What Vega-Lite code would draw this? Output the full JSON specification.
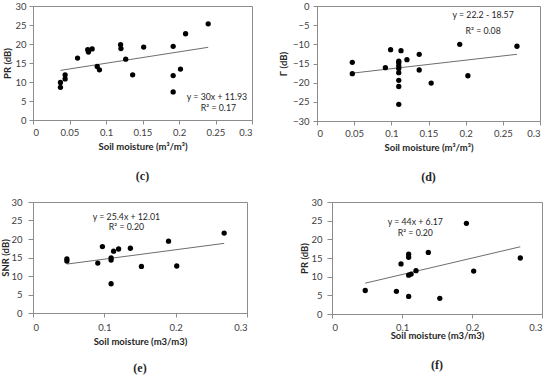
{
  "$schema": "https://vega.github.io/schema/vega-lite/v6.json",
  "background": "white",
  "padding": {"left": 0, "top": 0, "right": 0, "bottom": 0},
  "datasets": {
    "c": [
      {"sm": 0.0376, "v": 8.6}, {"sm": 0.0376, "v": 9.9}, {"sm": 0.044, "v": 11.9}, {"sm": 0.044, "v": 10.8},
      {"sm": 0.061, "v": 16.3}, {"sm": 0.075, "v": 18.5}, {"sm": 0.076, "v": 17.9}, {"sm": 0.081, "v": 18.7},
      {"sm": 0.088, "v": 14.1}, {"sm": 0.091, "v": 13.2}, {"sm": 0.12, "v": 19.8}, {"sm": 0.1205, "v": 18.8},
      {"sm": 0.127, "v": 16.0}, {"sm": 0.1365, "v": 11.9}, {"sm": 0.1516, "v": 19.2}, {"sm": 0.192, "v": 19.4},
      {"sm": 0.192, "v": 11.7}, {"sm": 0.192, "v": 7.4}, {"sm": 0.202, "v": 13.4}, {"sm": 0.209, "v": 22.7},
      {"sm": 0.24, "v": 25.3}
    ],
    "cfit": [{"sm": 0.0376, "v": 13.06}, {"sm": 0.24, "v": 19.13}],
    "d": [
      {"sm": 0.0475, "v": -14.7}, {"sm": 0.0475, "v": -17.65}, {"sm": 0.092, "v": -16.1}, {"sm": 0.099, "v": -11.4},
      {"sm": 0.11, "v": -14.4}, {"sm": 0.11, "v": -14.8}, {"sm": 0.11, "v": -15.6}, {"sm": 0.11, "v": -16.3},
      {"sm": 0.11, "v": -17.4}, {"sm": 0.11, "v": -19.4}, {"sm": 0.11, "v": -21.0}, {"sm": 0.11, "v": -25.65},
      {"sm": 0.113, "v": -11.65}, {"sm": 0.121, "v": -14.0}, {"sm": 0.1375, "v": -12.6}, {"sm": 0.1375, "v": -16.7},
      {"sm": 0.1536, "v": -20.1}, {"sm": 0.192, "v": -10.0}, {"sm": 0.203, "v": -18.2}, {"sm": 0.269, "v": -10.5}
    ],
    "dfit": [{"sm": 0.0475, "v": -17.52}, {"sm": 0.269, "v": -12.6}],
    "e": [
      {"sm": 0.0475, "v": 14.6}, {"sm": 0.0475, "v": 14.05}, {"sm": 0.0908, "v": 13.5}, {"sm": 0.0973, "v": 17.95},
      {"sm": 0.1095, "v": 14.9}, {"sm": 0.1095, "v": 14.3}, {"sm": 0.1095, "v": 7.9}, {"sm": 0.113, "v": 16.7},
      {"sm": 0.12, "v": 17.3}, {"sm": 0.1365, "v": 17.5}, {"sm": 0.152, "v": 12.6}, {"sm": 0.19, "v": 19.4},
      {"sm": 0.2015, "v": 12.7}, {"sm": 0.268, "v": 21.6}
    ],
    "efit": [{"sm": 0.0475, "v": 13.22}, {"sm": 0.268, "v": 18.82}],
    "f": [
      {"sm": 0.0475, "v": 6.3}, {"sm": 0.092, "v": 6.07}, {"sm": 0.0986, "v": 13.4}, {"sm": 0.1095, "v": 16.0},
      {"sm": 0.1095, "v": 15.2}, {"sm": 0.1095, "v": 10.4}, {"sm": 0.113, "v": 10.7}, {"sm": 0.1095, "v": 4.7},
      {"sm": 0.12, "v": 11.6}, {"sm": 0.1376, "v": 16.5}, {"sm": 0.154, "v": 4.2}, {"sm": 0.192, "v": 24.3},
      {"sm": 0.2024, "v": 11.5}, {"sm": 0.269, "v": 15.0}
    ],
    "ffit": [{"sm": 0.0475, "v": 8.26}, {"sm": 0.269, "v": 18.01}]
  },
  "config": {
    "view": {"stroke": "#8c8c8c", "strokeWidth": 1},
    "axis": {
      "grid": false, "domainColor": "#8c8c8c", "tickColor": "#8c8c8c", "tickSize": 4,
      "labelFont": "Lato", "labelFontSize": 9.5, "labelColor": "#404040", "labelPadding": 3,
      "titleFont": "Lato", "titleFontSize": 9.5, "titleFontWeight": "bold", "titleColor": "#262626"
    },
    "title": {"orient": "bottom", "font": "Liberation Serif", "fontSize": 12, "fontWeight": "bold", "color": "#262626", "offset": 20},
    "text": {"font": "Lato", "fontSize": 8.75, "color": "#262626"}
  },
  "spacing": 12,
  "align": "none",
  "vconcat": [
    {
      "spacing": 24,
      "hconcat": [
        {
          "title": "(c)",
          "width": 219, "height": 114,
          "layer": [
            {"data": {"name": "cfit"}, "mark": {"type": "line", "color": "#6e6e6e", "strokeWidth": 1},
             "encoding": {
               "x": {"field": "sm", "type": "quantitative", "scale": {"domain": [0, 0.3], "nice": false},
                     "axis": {"values": [0, 0.05, 0.1, 0.15, 0.2, 0.25, 0.3], "format": "~g", "title": "Soil moisture (m³/m³)", "titlePadding": 5}},
               "y": {"field": "v", "type": "quantitative", "scale": {"domain": [0, 30], "nice": false},
                     "axis": {"values": [0, 5, 10, 15, 20, 25, 30], "title": "PR (dB)", "titlePadding": 2, "labelPadding": 3}}
             }},
            {"data": {"name": "c"}, "mark": {"type": "circle", "color": "black", "opacity": 1, "size": 28},
             "encoding": {
               "x": {"field": "sm", "type": "quantitative", "scale": {"domain": [0, 0.3], "nice": false},
                     "axis": {"values": [0, 0.05, 0.1, 0.15, 0.2, 0.25, 0.3], "format": "~g", "title": "Soil moisture (m³/m³)", "titlePadding": 5}},
               "y": {"field": "v", "type": "quantitative", "scale": {"domain": [0, 30], "nice": false},
                     "axis": {"values": [0, 5, 10, 15, 20, 25, 30], "title": "PR (dB)", "titlePadding": 2, "labelPadding": 3}}
             }},
            {"data": {"values": [{"label": "y = 30x + 11.93"}]}, "mark": {"type": "text"},
             "encoding": {"text": {"field": "label"},
               "x": {"datum": 0.252, "type": "quantitative", "scale": {"domain": [0, 0.3], "nice": false},
                     "axis": {"values": [0, 0.05, 0.1, 0.15, 0.2, 0.25, 0.3], "format": "~g", "title": "Soil moisture (m³/m³)", "titlePadding": 5}},
               "y": {"datum": 6.05, "type": "quantitative", "scale": {"domain": [0, 30], "nice": false},
                     "axis": {"values": [0, 5, 10, 15, 20, 25, 30], "title": "PR (dB)", "titlePadding": 2, "labelPadding": 3}}}},
            {"data": {"values": [{"label": "R² = 0.17"}]}, "mark": {"type": "text"},
             "encoding": {"text": {"field": "label"},
               "x": {"datum": 0.254, "type": "quantitative", "scale": {"domain": [0, 0.3], "nice": false},
                     "axis": {"values": [0, 0.05, 0.1, 0.15, 0.2, 0.25, 0.3], "format": "~g", "title": "Soil moisture (m³/m³)", "titlePadding": 5}},
               "y": {"datum": 3.2, "type": "quantitative", "scale": {"domain": [0, 30], "nice": false},
                     "axis": {"values": [0, 5, 10, 15, 20, 25, 30], "title": "PR (dB)", "titlePadding": 2, "labelPadding": 3}}}}
          ]
        },
        {
          "title": "(d)",
          "width": 223, "height": 115,
          "layer": [
            {"data": {"name": "dfit"}, "mark": {"type": "line", "color": "#6e6e6e", "strokeWidth": 1},
             "encoding": {
               "x": {"field": "sm", "type": "quantitative", "scale": {"domain": [0, 0.3], "nice": false},
                     "axis": {"values": [0, 0.05, 0.1, 0.15, 0.2, 0.25, 0.3], "format": "~g", "title": "Soil moisture (m³/m³)", "titlePadding": 5}},
               "y": {"field": "v", "type": "quantitative", "scale": {"domain": [-30, 0], "nice": false},
                     "axis": {"values": [-30, -25, -20, -15, -10, -5, 0], "title": "Γ (dB)", "titlePadding": 4, "labelPadding": 4}}
             }},
            {"data": {"name": "d"}, "mark": {"type": "circle", "color": "black", "opacity": 1, "size": 28},
             "encoding": {
               "x": {"field": "sm", "type": "quantitative", "scale": {"domain": [0, 0.3], "nice": false},
                     "axis": {"values": [0, 0.05, 0.1, 0.15, 0.2, 0.25, 0.3], "format": "~g", "title": "Soil moisture (m³/m³)", "titlePadding": 5}},
               "y": {"field": "v", "type": "quantitative", "scale": {"domain": [-30, 0], "nice": false},
                     "axis": {"values": [-30, -25, -20, -15, -10, -5, 0], "title": "Γ (dB)", "titlePadding": 4, "labelPadding": 4}}
             }},
            {"data": {"values": [{"label": "y = 22.2 - 18.57"}]}, "mark": {"type": "text"},
             "encoding": {"text": {"field": "label"},
               "x": {"datum": 0.2235, "type": "quantitative", "scale": {"domain": [0, 0.3], "nice": false},
                     "axis": {"values": [0, 0.05, 0.1, 0.15, 0.2, 0.25, 0.3], "format": "~g", "title": "Soil moisture (m³/m³)", "titlePadding": 5}},
               "y": {"datum": -2.43, "type": "quantitative", "scale": {"domain": [-30, 0], "nice": false},
                     "axis": {"values": [-30, -25, -20, -15, -10, -5, 0], "title": "Γ (dB)", "titlePadding": 4, "labelPadding": 4}}}},
            {"data": {"values": [{"label": "R² = 0.08"}]}, "mark": {"type": "text"},
             "encoding": {"text": {"field": "label"},
               "x": {"datum": 0.2235, "type": "quantitative", "scale": {"domain": [0, 0.3], "nice": false},
                     "axis": {"values": [0, 0.05, 0.1, 0.15, 0.2, 0.25, 0.3], "format": "~g", "title": "Soil moisture (m³/m³)", "titlePadding": 5}},
               "y": {"datum": -6.5, "type": "quantitative", "scale": {"domain": [-30, 0], "nice": false},
                     "axis": {"values": [-30, -25, -20, -15, -10, -5, 0], "title": "Γ (dB)", "titlePadding": 4, "labelPadding": 4}}}}
          ]
        }
      ]
    },
    {
      "spacing": 51,
      "hconcat": [
        {
          "title": {"text": "(e)", "offset": 17},
          "width": 214, "height": 111,
          "layer": [
            {"data": {"name": "efit"}, "mark": {"type": "line", "color": "#6e6e6e", "strokeWidth": 1},
             "encoding": {
               "x": {"field": "sm", "type": "quantitative", "scale": {"domain": [0, 0.3], "nice": false},
                     "axis": {"values": [0, 0.1, 0.2, 0.3], "format": "~g", "title": "Soil moisture (m3/m3)", "titlePadding": 5, "labelPadding": 5}},
               "y": {"field": "v", "type": "quantitative", "scale": {"domain": [0, 30], "nice": false},
                     "axis": {"values": [0, 5, 10, 15, 20, 25, 30], "title": "SNR (dB)", "titlePadding": 0, "tickSize": 5, "labelPadding": 6}}
             }},
            {"data": {"name": "e"}, "mark": {"type": "circle", "color": "black", "opacity": 1, "size": 28},
             "encoding": {
               "x": {"field": "sm", "type": "quantitative", "scale": {"domain": [0, 0.3], "nice": false},
                     "axis": {"values": [0, 0.1, 0.2, 0.3], "format": "~g", "title": "Soil moisture (m3/m3)", "titlePadding": 5, "labelPadding": 5}},
               "y": {"field": "v", "type": "quantitative", "scale": {"domain": [0, 30], "nice": false},
                     "axis": {"values": [0, 5, 10, 15, 20, 25, 30], "title": "SNR (dB)", "titlePadding": 0, "tickSize": 5, "labelPadding": 6}}
             }},
            {"data": {"values": [{"label": "y = 25.4x + 12.01"}]}, "mark": {"type": "text"},
             "encoding": {"text": {"field": "label"},
               "x": {"datum": 0.131, "type": "quantitative", "scale": {"domain": [0, 0.3], "nice": false},
                     "axis": {"values": [0, 0.1, 0.2, 0.3], "format": "~g", "title": "Soil moisture (m3/m3)", "titlePadding": 5, "labelPadding": 5}},
               "y": {"datum": 25.9, "type": "quantitative", "scale": {"domain": [0, 30], "nice": false},
                     "axis": {"values": [0, 5, 10, 15, 20, 25, 30], "title": "SNR (dB)", "titlePadding": 0, "tickSize": 5, "labelPadding": 6}}}},
            {"data": {"values": [{"label": "R² = 0.20"}]}, "mark": {"type": "text"},
             "encoding": {"text": {"field": "label"},
               "x": {"datum": 0.131, "type": "quantitative", "scale": {"domain": [0, 0.3], "nice": false},
                     "axis": {"values": [0, 0.1, 0.2, 0.3], "format": "~g", "title": "Soil moisture (m3/m3)", "titlePadding": 5, "labelPadding": 5}},
               "y": {"datum": 23.2, "type": "quantitative", "scale": {"domain": [0, 30], "nice": false},
                     "axis": {"values": [0, 5, 10, 15, 20, 25, 30], "title": "SNR (dB)", "titlePadding": 0, "tickSize": 5, "labelPadding": 6}}}}
          ]
        },
        {
          "title": "(f)",
          "width": 210, "height": 112,
          "layer": [
            {"data": {"name": "ffit"}, "mark": {"type": "line", "color": "#6e6e6e", "strokeWidth": 1},
             "encoding": {
               "x": {"field": "sm", "type": "quantitative", "scale": {"domain": [0, 0.3], "nice": false},
                     "axis": {"values": [0, 0.1, 0.2, 0.3], "format": "~g", "title": "Soil moisture (m3/m3)", "titlePadding": -1, "labelPadding": 4}},
               "y": {"field": "v", "type": "quantitative", "scale": {"domain": [0, 30], "nice": false},
                     "axis": {"values": [0, 5, 10, 15, 20, 25, 30], "title": "PR (dB)", "titlePadding": 1, "tickSize": 5, "labelPadding": 5}}
             }},
            {"data": {"name": "f"}, "mark": {"type": "circle", "color": "black", "opacity": 1, "size": 28},
             "encoding": {
               "x": {"field": "sm", "type": "quantitative", "scale": {"domain": [0, 0.3], "nice": false},
                     "axis": {"values": [0, 0.1, 0.2, 0.3], "format": "~g", "title": "Soil moisture (m3/m3)", "titlePadding": -1, "labelPadding": 4}},
               "y": {"field": "v", "type": "quantitative", "scale": {"domain": [0, 30], "nice": false},
                     "axis": {"values": [0, 5, 10, 15, 20, 25, 30], "title": "PR (dB)", "titlePadding": 1, "tickSize": 5, "labelPadding": 5}}
             }},
            {"data": {"values": [{"label": "y = 44x + 6.17"}]}, "mark": {"type": "text"},
             "encoding": {"text": {"field": "label"},
               "x": {"datum": 0.119, "type": "quantitative", "scale": {"domain": [0, 0.3], "nice": false},
                     "axis": {"values": [0, 0.1, 0.2, 0.3], "format": "~g", "title": "Soil moisture (m3/m3)", "titlePadding": -1, "labelPadding": 4}},
               "y": {"datum": 24.55, "type": "quantitative", "scale": {"domain": [0, 30], "nice": false},
                     "axis": {"values": [0, 5, 10, 15, 20, 25, 30], "title": "PR (dB)", "titlePadding": 1, "tickSize": 5, "labelPadding": 5}}}},
            {"data": {"values": [{"label": "R² = 0.20"}]}, "mark": {"type": "text"},
             "encoding": {"text": {"field": "label"},
               "x": {"datum": 0.119, "type": "quantitative", "scale": {"domain": [0, 0.3], "nice": false},
                     "axis": {"values": [0, 0.1, 0.2, 0.3], "format": "~g", "title": "Soil moisture (m3/m3)", "titlePadding": -1, "labelPadding": 4}},
               "y": {"datum": 21.7, "type": "quantitative", "scale": {"domain": [0, 30], "nice": false},
                     "axis": {"values": [0, 5, 10, 15, 20, 25, 30], "title": "PR (dB)", "titlePadding": 1, "tickSize": 5, "labelPadding": 5}}}}
          ]
        }
      ]
    }
  ]
}
